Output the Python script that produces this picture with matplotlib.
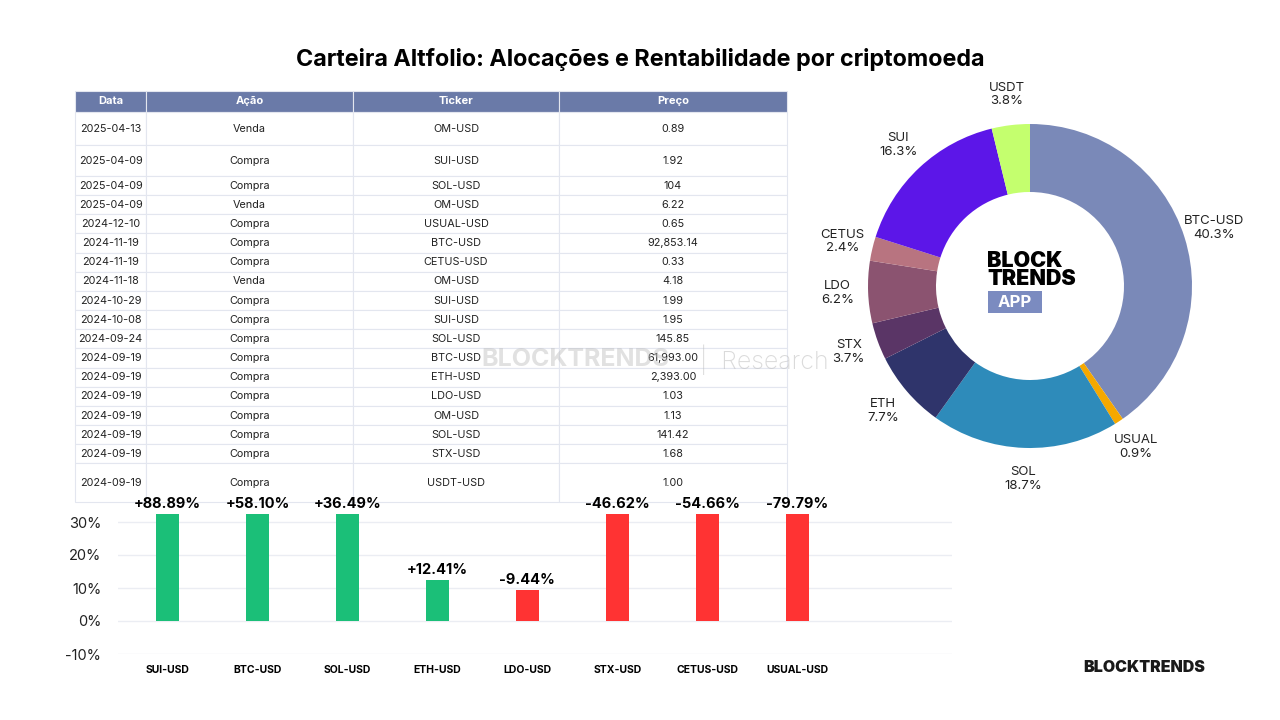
import numpy as np
import matplotlib.pyplot as plt
from matplotlib.patches import FancyBboxPatch

plt.rcParams['font.family'] = ['Inter', 'DejaVu Sans']

# ---- Dados: tabela de operações ----
datas = ['2025-04-13', '2025-04-09', '2025-04-09', '2025-04-09', '2024-12-10', '2024-11-19',
         '2024-11-19', '2024-11-18', '2024-10-29', '2024-10-08', '2024-09-24', '2024-09-19',
         '2024-09-19', '2024-09-19', '2024-09-19', '2024-09-19', '2024-09-19', '2024-09-19']
acoes = ['Venda', 'Compra', 'Compra', 'Venda', 'Compra', 'Compra', 'Compra', 'Venda', 'Compra',
         'Compra', 'Compra', 'Compra', 'Compra', 'Compra', 'Compra', 'Compra', 'Compra', 'Compra']
tickers = ['OM-USD', 'SUI-USD', 'SOL-USD', 'OM-USD', 'USUAL-USD', 'BTC-USD', 'CETUS-USD', 'OM-USD',
           'SUI-USD', 'SUI-USD', 'SOL-USD', 'BTC-USD', 'ETH-USD', 'LDO-USD', 'OM-USD', 'SOL-USD',
           'STX-USD', 'USDT-USD']
precos = ['0.89', '1.92', '104', '6.22', '0.65', '92,853.14', '0.33', '4.18', '1.99', '1.95',
          '145.85', '61,993.00', '2,393.00', '1.03', '1.13', '141.42', '1.68', '1.00']
colunas = ['Data', 'Ação', 'Ticker', 'Preço']

# ---- Dados: alocação ----
ativos = ['BTC-USD', 'USUAL', 'SOL', 'ETH', 'STX', 'LDO', 'CETUS', 'SUI', 'USDT']
alocacao = [40.3, 0.9, 18.7, 7.7, 3.7, 6.2, 2.4, 16.3, 3.8]
cores_pie = ['#7a89b8', '#f5a800', '#2e8bba', '#2f346b', '#5a3566', '#8b5370', '#b87480',
             '#5c16e8', '#c4ff6e']

# ---- Dados: rentabilidade ----
moedas = ['SUI-USD', 'BTC-USD', 'SOL-USD', 'ETH-USD', 'LDO-USD', 'STX-USD', 'CETUS-USD', 'USUAL-USD']
rentab = [88.89, 58.10, 36.49, 12.41, -9.44, -46.62, -54.66, -79.79]

fig = plt.figure(figsize=(12.8, 7.2), dpi=100)
fig.patch.set_facecolor('white')

fig.text(0.5, 0.918, 'Carteira Altfolio: Alocações e Rentabilidade por criptomoeda',
         ha='center', va='center', fontsize=16.8, fontweight='bold', color='black')

# ---- Tabela ----
ax_t = fig.add_axes([75/1280, 1 - 502/720, (787-75)/1280, (502-91)/720])
ax_t.axis('off')
linhas = [[d, a, t, p] for d, a, t, p in zip(datas, acoes, tickers, precos)]
tab = ax_t.table(cellText=linhas, colLabels=colunas, cellLoc='center', bbox=[0, 0, 1, 1],
                 colWidths=[71, 207, 206, 228])
tab.auto_set_font_size(False)
alturas = [21, 34, 31] + [19.4] * 15 + [39]
for (r, c), cell in tab.get_celld().items():
    cell.set_height(alturas[r])
    cell.set_edgecolor('#e3e6ef')
    cell.set_linewidth(0.8)
    if r == 0:
        cell.set_facecolor('#6a7aa8')
        cell.get_text().set_color('white')
        cell.get_text().set_fontweight('bold')
        cell.get_text().set_fontsize(8)
    else:
        cell.set_facecolor('white')
        cell.get_text().set_color('#222222')
        cell.get_text().set_fontsize(7.8)

# marca d'agua
fig.text(575/1280, 1 - 360/720, 'BLOCKTRENDS', ha='center', va='center', fontsize=18,
         fontweight='bold', color='#bdbdbd', alpha=0.45)
fig.text(764/1280, 1 - 360/720, '|  Research', ha='center', va='center', fontsize=18,
         fontweight='light', color='#bdbdbd', alpha=0.55)

# ---- Donut ----
ax_p = fig.add_axes([(1030-200)/1280, 1 - (286+200)/720, 400/1280, 400/720])
wedges, textos = ax_p.pie(alocacao, colors=cores_pie, startangle=90, counterclock=False,
                          radius=0.81, labels=[f'{a}\n{v}%' for a, v in zip(ativos, alocacao)],
                          labeldistance=1.19, wedgeprops=dict(width=0.34, edgecolor='none'),
                          textprops=dict(fontsize=9.5, color='#222222'))
for t in textos:
    t.set_ha('center')
    t.set_va('center')
    t.set_linespacing(1.2)
ax_p.set_xlim(-1, 1)
ax_p.set_ylim(-1, 1)
ax_p.set_aspect('equal')

fig.text(987/1280, 1 - 270/720, 'BLOCK\nTRENDS', ha='left', va='center', fontsize=15.5,
         fontweight='black', color='black', linespacing=0.85)
fig.patches.append(FancyBboxPatch((988/1280, 1 - 313/720), 54/1280, 22/720,
                                  boxstyle='square,pad=0', transform=fig.transFigure,
                                  facecolor='#7b8bc0', edgecolor='none'))
fig.text(1015/1280, 1 - 302/720, 'APP', ha='center', va='center', fontsize=12,
         fontweight='bold', color='white')

# ---- Barras ----
ymax = 32.5
ax_b = fig.add_axes([118/1280, 1 - 654/720, (952-118)/1280, (654-513.75)/720])
x = np.arange(len(moedas))
alturas_b = np.abs(rentab)
cores_b = ['#1bbf78' if v > 0 else '#ff3333' for v in rentab]
ax_b.bar(x, alturas_b, width=0.26, color=cores_b, zorder=3)
for xi, h, v in zip(x, alturas_b, rentab):
    ax_b.text(xi, min(h, ymax) + 0.8, f'{v:+.2f}%', ha='center', va='bottom', fontsize=10.5,
              fontweight='bold', color='black', clip_on=False)
ax_b.set_xlim(-0.55, 8.72)
ax_b.set_ylim(-10, ymax)
ax_b.set_yticks([-10, 0, 10, 20, 30])
ax_b.set_yticklabels(['-10%', '0%', '10%', '20%', '30%'], fontsize=10.5, color='#222222')
ax_b.set_xticks(x)
ax_b.set_xticklabels(moedas, fontsize=7.5, fontweight='bold', color='black')
ax_b.tick_params(length=0)
ax_b.tick_params(axis='x', pad=8)
ax_b.tick_params(axis='y', pad=12)
ax_b.grid(axis='y', color='#ebedf3', linewidth=1, zorder=0)
for s in ax_b.spines.values():
    s.set_visible(False)

fig.text(1144/1280, 1 - 668/720, 'BLOCKTRENDS', ha='center', va='center', fontsize=11.5,
         fontweight='black', color='#1a1a1a')

plt.savefig('out.png', dpi=100, facecolor='white')
